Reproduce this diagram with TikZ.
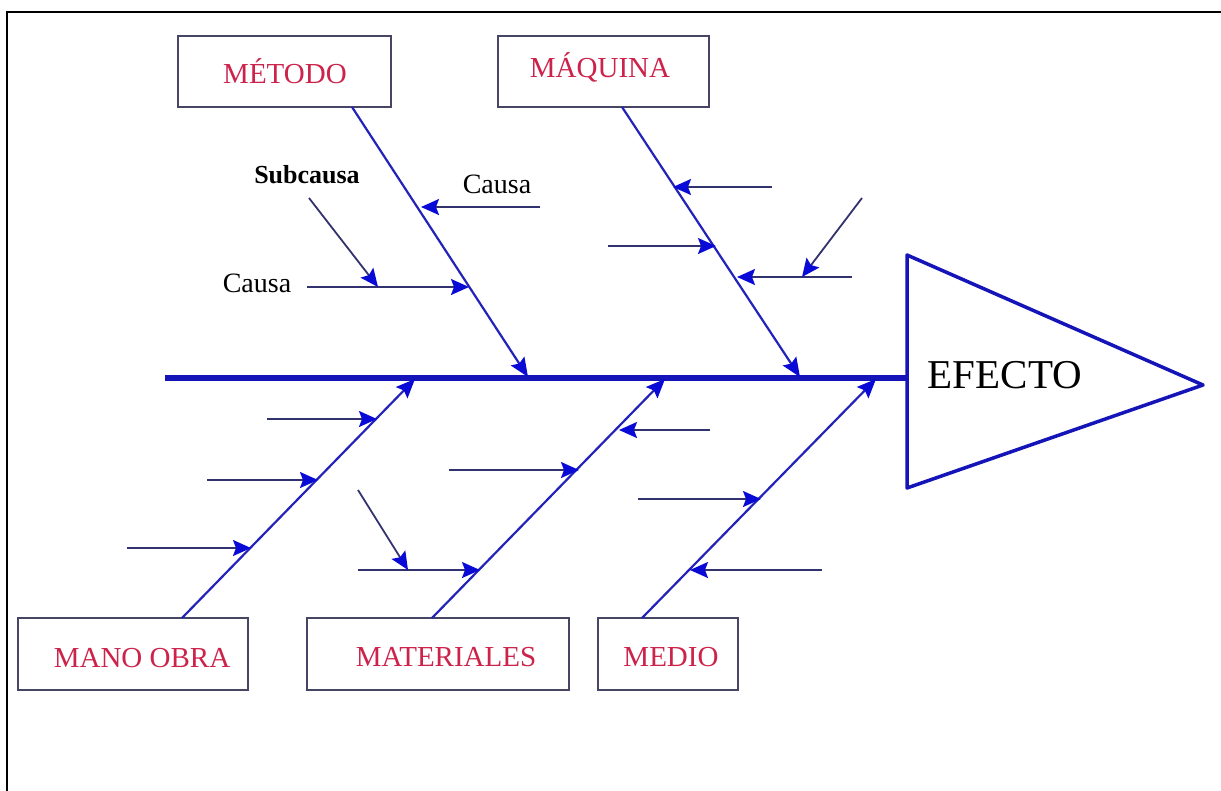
\documentclass[tikz,border=0pt]{standalone}
\usepackage{fontspec}
\setmainfont{Liberation Serif}
\usetikzlibrary{arrows.meta}

\definecolor{bonec}{RGB}{35,35,185}
\definecolor{twigc}{RGB}{50,50,110}
\definecolor{tipc}{RGB}{10,10,215}
\definecolor{spinec}{RGB}{20,20,185}
\definecolor{catred}{RGB}{205,35,75}
\definecolor{boxline}{RGB}{70,70,100}

\begin{document}
\begin{tikzpicture}[x=1pt,y=-1pt,
  catbox/.style={draw=boxline,line width=1.5pt,rectangle,inner sep=0pt},
  cattext/.style={text=catred,anchor=base,inner sep=0pt,font=\fontsize{29}{34}\selectfont},
  causetext/.style={text=black,anchor=base,inner sep=0pt,font=\fontsize{28}{33}\selectfont},
  subtext/.style={text=black,anchor=base,inner sep=0pt,font=\bfseries\fontsize{26}{31}\selectfont},
  bone/.style={draw=bonec,line width=2.2pt,-{Stealth[length=19pt,width=16pt,inset=3pt,color=tipc]}},
  twig/.style={draw=twigc,line width=1.8pt,-{Stealth[length=18pt,width=16pt,inset=3pt,color=tipc]}},
  spine/.style={draw=spinec,line width=5.5pt},
  head/.style={draw=spinec,line width=3.5pt,line join=round}]

\useasboundingbox (0,0) rectangle (1221,790);
\fill[white] (0,0) rectangle (1221,790);

% outer frame
\draw[line width=2pt,black] (7,800) -- (7,12) -- (1230,12);

% category boxes
\node[catbox,minimum width=213pt,minimum height=71pt] (metodo)   at (284.5,71.5) {};
\node[catbox,minimum width=211pt,minimum height=71pt] (maquina)  at (603.5,71.5) {};
\node[catbox,minimum width=230pt,minimum height=72pt] (mano)     at (133,654) {};
\node[catbox,minimum width=262pt,minimum height=72pt] (material) at (438,654) {};
\node[catbox,minimum width=140pt,minimum height=72pt] (medio)    at (668,654) {};

\node[cattext] (metodoT)   at (285,83)  {MÉTODO};
\node[cattext] (maquinaT)  at (600,77)  {MÁQUINA};
\node[cattext] (manoT)     at (142,667) {MANO OBRA};
\node[cattext] (materialT) at (446,666) {MATERIALES};
\node[cattext] (medioT)    at (671,666) {MEDIO};

% effect head and spine
\coordinate (tA) at (907,255);
\coordinate (tB) at (907,488);
\coordinate (tC) at (1203,385);
\draw[head] (tA) -- (tC) -- (tB) -- cycle;
\node[text=black,anchor=base,inner sep=0pt,font=\fontsize{41}{48}\selectfont] (efecto) at (1005,388) {EFECTO};

\coordinate (spL) at (165,378);
\coordinate (spR) at (907,378);
\draw[spine] (spL) -- (spR);

% main bones
\coordinate (bMe0) at (352,107);  \coordinate (bMe1) at (528,377);
\coordinate (bMq0) at (622,107);  \coordinate (bMq1) at (800,377);
\coordinate (bMo0) at (182,618);  \coordinate (bMo1) at (415,379);
\coordinate (bMa0) at (432,618);  \coordinate (bMa1) at (665,379);
\coordinate (bMd0) at (642,618);  \coordinate (bMd1) at (876,379);
\draw[bone] (bMe0) -- (bMe1);
\draw[bone] (bMq0) -- (bMq1);
\draw[bone] (bMo0) -- (bMo1);
\draw[bone] (bMa0) -- (bMa1);
\draw[bone] (bMd0) -- (bMd1);

% cause labels
\node[subtext]   (subcausa) at (307,183) {Subcausa};
\node[causetext] (causaR)   at (497,193) {Causa};
\node[causetext] (causaL)   at (257,292) {Causa};

% twigs on the method bone
\coordinate (me1a) at (540,207); \coordinate (me1b) at (421,207);
\coordinate (me2a) at (307,287); \coordinate (me2b) at (469,287);
\coordinate (me3a) at (309,198); \coordinate (me3b) at (378,287);
\draw[twig] (me1a) -- (me1b);
\draw[twig] (me2a) -- (me2b);
\draw[twig] (me3a) -- (me3b);

% twigs on the machine bone
\coordinate (mq1a) at (772,187); \coordinate (mq1b) at (673,187);
\coordinate (mq2a) at (608,246); \coordinate (mq2b) at (716,246);
\coordinate (mq3a) at (852,277); \coordinate (mq3b) at (737,277);
\coordinate (mq4a) at (862,198); \coordinate (mq4b) at (802,277);
\draw[twig] (mq1a) -- (mq1b);
\draw[twig] (mq2a) -- (mq2b);
\draw[twig] (mq3a) -- (mq3b);
\draw[twig] (mq4a) -- (mq4b);

% twigs on the labour bone
\coordinate (mo1a) at (267,419); \coordinate (mo1b) at (377,419);
\coordinate (mo2a) at (207,480); \coordinate (mo2b) at (318,480);
\coordinate (mo3a) at (127,548); \coordinate (mo3b) at (251,548);
\draw[twig] (mo1a) -- (mo1b);
\draw[twig] (mo2a) -- (mo2b);
\draw[twig] (mo3a) -- (mo3b);

% twigs on the materials bone
\coordinate (ma1a) at (710,430); \coordinate (ma1b) at (619,430);
\coordinate (ma2a) at (449,470); \coordinate (ma2b) at (579,470);
\coordinate (ma3a) at (358,570); \coordinate (ma3b) at (480,570);
\coordinate (ma4a) at (358,490); \coordinate (ma4b) at (408,570);
\draw[twig] (ma1a) -- (ma1b);
\draw[twig] (ma2a) -- (ma2b);
\draw[twig] (ma3a) -- (ma3b);
\draw[twig] (ma4a) -- (ma4b);

% twigs on the environment bone
\coordinate (md1a) at (638,499); \coordinate (md1b) at (761,499);
\coordinate (md2a) at (822,570); \coordinate (md2b) at (690,570);
\draw[twig] (md1a) -- (md1b);
\draw[twig] (md2a) -- (md2b);

\end{tikzpicture}
\end{document}
